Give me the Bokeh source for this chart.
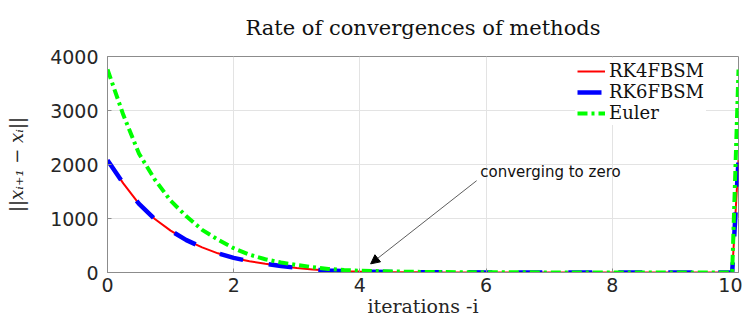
from bokeh.plotting import figure
from bokeh.models import Range1d, FixedTicker, Legend, LegendItem, Arrow, NormalHead, Label
from bokeh.embed import file_html
from bokeh.resources import INLINE

# ---- data ----
iterations = [0, 0.25, 0.5, 0.75, 1.0, 1.25, 1.5, 1.75, 2.0, 2.25, 2.5, 2.75, 3.0,
              3.25, 3.5, 3.75, 4.0, 4.5, 5, 6, 7, 8, 9, 9.9, 10]
rk4_err = [2080, 1650, 1270, 990, 775, 600, 465, 355, 270, 210, 160, 120, 85,
           55, 35, 25, 18, 10, 5, 2, 1, 0.5, 0.2, 0, 2080]
rk6_err = [2080, 1650, 1270, 990, 775, 600, 465, 355, 270, 210, 160, 120, 85,
           55, 35, 25, 18, 10, 5, 2, 1, 0.5, 0.2, 0, 2080]
euler_err = [3760, 2920, 2200, 1720, 1330, 1040, 790, 610, 450, 330, 245, 185, 140,
             100, 65, 45, 33, 20, 10, 4, 2, 1, 0.4, 0, 3760]
x_ticks = [0, 2, 4, 6, 8, 10]
y_ticks = [0, 1000, 2000, 3000, 4000]
title_text = "Rate of convergences of methods"
annot_text = "converging to zero"
annot_text_pos = (7.02, 1865)
annot_arrow_start = (5.85, 1700)
annot_arrow_end = (4.17, 160)

p = figure(width=742, height=319, output_backend="svg", toolbar_location=None,
           x_range=Range1d(0, 10), y_range=Range1d(0, 4000), title=title_text)
p.min_border_left = 107
p.min_border_right = 4
p.min_border_top = 52
p.min_border_bottom = 40

p.title.align = "center"
p.title.vertical_align = "top"
p.title.text_font = "DejaVu Serif"
p.title.text_font_size = "21px"
p.title.text_font_style = "normal"
p.title.text_color = "#111111"
p.title.offset = -7
p.title.standoff = 30

p.background_fill_color = "white"
p.border_fill_color = "white"
p.outline_line_color = "#8c8c8c"
p.outline_line_width = 1

for ax in (p.xaxis[0], p.yaxis[0]):
    ax.axis_line_color = "#8c8c8c"
    ax.major_tick_line_color = "#8c8c8c"
    ax.major_tick_in = 4
    ax.major_tick_out = 0
    ax.minor_tick_line_color = None
    ax.major_label_text_font = "DejaVu Sans"
    ax.major_label_text_font_size = "19px"
    ax.major_label_text_color = "#262626"
    ax.axis_label_text_font = "DejaVu Serif"
    ax.axis_label_text_color = "#262626"

p.xaxis.ticker = FixedTicker(ticks=x_ticks)
p.yaxis.ticker = FixedTicker(ticks=y_ticks)
p.xaxis.major_label_standoff = 5
p.yaxis.major_label_standoff = 9
p.xaxis.axis_label = "iterations -i"
p.xaxis.axis_label_text_font_size = "19px"
p.xaxis.axis_label_text_font_style = "normal"
p.xaxis.axis_label_standoff = 0
p.yaxis.axis_label = "||x\u1d62\u208a\u2081 \u2212 x\u1d62||"
p.yaxis.axis_label_text_font_size = "18px"
p.yaxis.axis_label_text_font_style = "italic"
p.yaxis.axis_label_standoff = 20

p.xgrid.grid_line_color = "#e3e3e3"
p.ygrid.grid_line_color = "#e3e3e3"

r1 = p.line(iterations, rk4_err, line_color="#ff0000", line_width=2)
r2 = p.line(iterations, rk6_err, line_color="#0000ff", line_width=4.5, line_dash="24 26")
r3 = p.line(iterations, euler_err, line_color="#00ff00", line_width=4, line_dash="10 4 3 4")

legend = Legend(items=[LegendItem(label="RK4FBSM", renderers=[r1]),
                       LegendItem(label="RK6FBSM", renderers=[r2]),
                       LegendItem(label="Euler", renderers=[r3])],
                location=(468, 147))
legend.label_text_font = "DejaVu Serif"
legend.label_text_font_size = "18px"
legend.label_text_color = "#111111"
legend.glyph_width = 28
legend.glyph_height = 18
legend.label_height = 18
legend.label_standoff = 4
legend.spacing = -1
legend.padding = 2
legend.margin = 0
legend.border_line_alpha = 0
legend.background_fill_color = "white"
legend.background_fill_alpha = 1
p.add_layout(legend)

arrow = Arrow(end=NormalHead(size=9, fill_color="#000000", line_color="#000000", line_width=1),
              x_start=annot_arrow_start[0], y_start=annot_arrow_start[1],
              x_end=annot_arrow_end[0], y_end=annot_arrow_end[1],
              line_color="#333333", line_width=0.8)
p.add_layout(arrow)
lab = Label(x=annot_text_pos[0], y=annot_text_pos[1], text=annot_text,
            text_font="DejaVu Sans", text_font_size="15px", text_color="#111111",
            text_align="center", text_baseline="middle")
p.add_layout(lab)

open("out.html", "w").write(file_html(p, INLINE))
